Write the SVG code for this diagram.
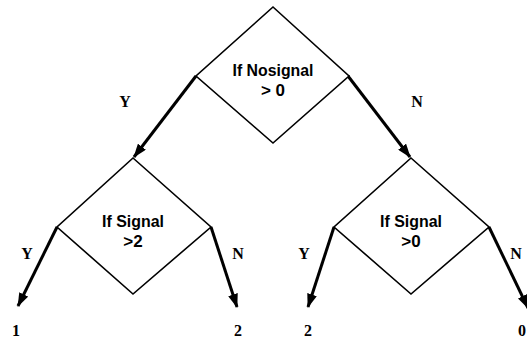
<svg xmlns="http://www.w3.org/2000/svg" width="527" height="339" viewBox="0 0 527 339">
<style>
.d{fill:#fff;stroke:#000;stroke-width:1.6}
.t{font-family:"Liberation Sans",Arial,sans-serif;font-size:17px;font-weight:bold;text-anchor:middle;fill:#000}
.c{stroke:#000;stroke-width:3;fill:none}
.l{font-family:"Liberation Serif","Times New Roman",serif;font-size:16px;font-weight:bold;text-anchor:middle;fill:#000}
</style>
<defs>
<marker id="ah" markerUnits="userSpaceOnUse" markerWidth="14" markerHeight="10" refX="13" refY="5" orient="auto">
<path d="M0,0 L14,5 L0,10 Z" fill="#000"/>
</marker>
</defs>
<rect width="527" height="339" fill="#fff"/>
<g id="connectors">
<line class="c" x1="196" y1="76" x2="134" y2="157" marker-end="url(#ah)"/>
<line class="c" x1="348" y1="76" x2="410" y2="157" marker-end="url(#ah)"/>
<line class="c" x1="57" y1="227" x2="18" y2="306" marker-end="url(#ah)"/>
<line class="c" x1="211" y1="227" x2="237" y2="307" marker-end="url(#ah)"/>
<line class="c" x1="334" y1="227" x2="308" y2="307" marker-end="url(#ah)"/>
<line class="c" x1="489" y1="227" x2="528" y2="308" marker-end="url(#ah)"/>
<text class="l" x="125" y="107">Y</text>
<text class="l" x="417" y="107">N</text>
<text class="l" x="27" y="259">Y</text>
<text class="l" x="238" y="259">N</text>
<text class="l" x="304" y="259">Y</text>
<text class="l" x="516" y="259">N</text>
</g>
<g id="root">
<polygon class="d" points="273,7 349,76 273,143 196,76"/>
<text class="t" x="273" y="76" textLength="81" lengthAdjust="spacingAndGlyphs">If Nosignal</text>
<text class="t" x="273" y="96">&gt; 0</text>
</g>
<g id="left">
<polygon class="d" points="133,158 211,227 133,294 57,227"/>
<text class="t" x="133" y="227" textLength="62" lengthAdjust="spacingAndGlyphs">If Signal</text>
<text class="t" x="133" y="247">&gt;2</text>
</g>
<g id="right">
<polygon class="d" points="411,158 489,227 411,294 334,227"/>
<text class="t" x="411" y="227" textLength="62" lengthAdjust="spacingAndGlyphs">If Signal</text>
<text class="t" x="411" y="247">&gt;0</text>
</g>
<g id="out1"><text class="l" x="16" y="336">1</text></g>
<g id="out2"><text class="l" x="238" y="336">2</text></g>
<g id="out3"><text class="l" x="308" y="336">2</text></g>
<g id="out4"><text class="l" x="522" y="336">0</text></g>
</svg>
